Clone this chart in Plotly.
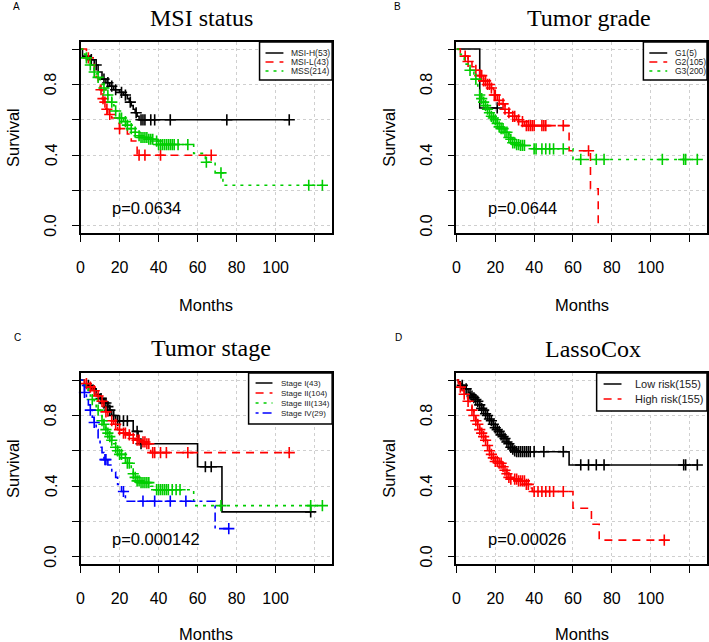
import numpy as np
import plotly.graph_objects as go

W, H = 709, 642

# ---------------- data ----------------
# Panel A : MSI status
MSIH_t = [0, 1, 5, 7, 9, 11, 13, 15, 17, 20, 22, 24, 25, 26, 27, 28, 29, 30]
MSIH_s = [1.0, 0.96, 0.94, 0.91, 0.87, 0.83, 0.81, 0.79, 0.77, 0.755, 0.74, 0.72, 0.70, 0.68, 0.66, 0.64, 0.62, 0.60]
MSIH_c = [5.5, 8, 12, 14, 16, 18, 21, 23, 25.5, 28.5, 31, 32, 33, 36, 38, 46, 75, 107]
MSIH_end = 107

MSIL_t = [0, 3, 5, 7, 8, 9, 10, 11, 12, 13, 14, 16, 19, 20, 24, 26, 29]
MSIL_s = [1.0, 0.95, 0.93, 0.88, 0.84, 0.81, 0.77, 0.72, 0.70, 0.66, 0.63, 0.61, 0.58, 0.55, 0.52, 0.48, 0.40]
MSIL_c = [4, 10.5, 11.5, 12.5, 13.5, 15, 20, 30, 33, 41, 67]
MSIL_end = 67

MSS_t = [0, 1, 2, 3, 4, 5, 6, 7, 8, 9, 10, 11, 12, 13, 14, 15, 16, 17, 18, 19, 20, 22, 24, 25, 27, 29, 31, 35, 38, 40, 58, 64, 69, 73]
MSS_s = [1.0, 0.99, 0.97, 0.95, 0.93, 0.91, 0.89, 0.87, 0.86, 0.84, 0.82, 0.80, 0.78, 0.76, 0.74, 0.72, 0.70, 0.68, 0.65, 0.63, 0.61, 0.59, 0.57, 0.55, 0.53, 0.51, 0.50, 0.49, 0.48, 0.46, 0.41, 0.36, 0.30, 0.23]
MSS_c = [3, 5, 7, 9, 12, 14, 16, 18, 20, 21, 23, 24, 26, 28, 30, 31, 32, 33, 34, 35, 36, 37, 39, 40, 41, 42, 43, 44, 45, 46, 47, 48, 50, 55, 64.5, 72, 117, 124]
MSS_end = 124

# Panel B : Tumor grade
G1_t = [0, 12]
G1_s = [1.0, 0.667]
G1_c = [21]
G1_end = 21

G2_t = [0, 2, 4, 6, 8, 10, 12, 14, 16, 18, 19, 21, 23, 25, 27, 29, 31, 33, 35, 58, 69, 73]
G2_s = [1.0, 0.98, 0.96, 0.93, 0.90, 0.88, 0.85, 0.82, 0.80, 0.78, 0.74, 0.71, 0.69, 0.66, 0.64, 0.62, 0.60, 0.59, 0.567, 0.425, 0.21, 0.0]
G2_c = [4.5, 6, 10, 12, 13, 14, 15, 16, 17, 18, 19.5, 20, 22, 24, 25, 27, 29, 30, 32, 34, 36, 37, 38, 39, 40, 44, 45, 46, 55, 68]
G2_end = 73

G3_t = [0, 1, 2, 3, 4, 5, 6, 7, 8, 9, 10, 11, 12, 13, 14, 15, 16, 17, 18, 19, 20, 21, 22, 23, 25, 27, 28, 29, 31, 33, 38, 40, 60]
G3_s = [1.0, 0.99, 0.97, 0.95, 0.93, 0.915, 0.90, 0.88, 0.87, 0.86, 0.83, 0.78, 0.74, 0.72, 0.70, 0.68, 0.66, 0.64, 0.62, 0.61, 0.60, 0.58, 0.56, 0.55, 0.53, 0.50, 0.49, 0.47, 0.46, 0.455, 0.446, 0.436, 0.376]
G3_c = [7, 10, 12, 13, 14, 15, 16, 17, 18, 19, 20, 21, 22, 23, 24, 25, 26, 27, 28, 29, 30, 31, 32, 33, 34, 35, 40, 41, 44, 46, 48, 50, 55, 64, 72, 76, 106, 117, 118, 124]
G3_end = 124

# Panel C : Tumor stage
S1_t = [0, 2, 5, 8, 10, 12, 14, 15, 16, 18, 27, 29.5, 30.5, 60, 72.5]
S1_s = [1.0, 0.97, 0.95, 0.92, 0.895, 0.87, 0.85, 0.83, 0.80, 0.77, 0.71, 0.665, 0.64, 0.51, 0.255]
S1_c = [4, 10.5, 12, 13, 14, 15, 17, 19, 20, 22, 24, 29, 31, 64, 67, 118]
S1_end = 118

S2_t = [0, 2, 4, 6, 8, 10, 12, 13, 14, 15, 17, 19, 21, 24, 26, 28, 31, 34, 36]
S2_s = [1.0, 0.98, 0.96, 0.94, 0.91, 0.88, 0.85, 0.82, 0.79, 0.77, 0.75, 0.72, 0.70, 0.69, 0.67, 0.66, 0.65, 0.64, 0.59]
S2_c = [3, 5, 7, 9, 11, 13, 16, 18, 20, 22, 23, 25, 27, 29, 30, 32, 33, 34, 35, 37, 38, 41, 44, 55, 107]
S2_end = 107

S3_t = [0, 1, 2, 3, 4, 5, 6, 7, 8, 9, 10, 11, 12, 13, 14, 15, 16, 17, 18, 19, 20, 22, 24, 26, 27, 28, 29, 31, 36, 38, 58]
S3_s = [1.0, 0.99, 0.97, 0.95, 0.93, 0.91, 0.89, 0.87, 0.85, 0.83, 0.80, 0.77, 0.75, 0.72, 0.70, 0.68, 0.66, 0.64, 0.62, 0.60, 0.58, 0.56, 0.53, 0.50, 0.47, 0.45, 0.43, 0.42, 0.40, 0.38, 0.29]
S3_c = [6, 9, 11, 12, 13, 14, 15, 16, 18, 19, 20, 21, 23, 24, 25, 27, 28, 29, 30, 31, 32, 33, 34, 35, 39, 40, 41, 42, 43, 44, 45, 47, 49, 51, 72, 118, 124]
S3_end = 124

S4_t = [0, 1, 2, 3, 4, 5, 6, 7, 8, 9, 10, 11, 12, 14, 16, 18, 19, 21, 23, 69]
S4_s = [1.0, 0.97, 0.93, 0.90, 0.86, 0.83, 0.79, 0.76, 0.72, 0.66, 0.62, 0.59, 0.55, 0.52, 0.48, 0.45, 0.41, 0.37, 0.315, 0.16]
S4_c = [2, 5, 7, 12.5, 13, 22, 32, 38, 46, 54, 76]
S4_end = 76

# Panel D : LassoCox
LOW_t = [0, 1, 2, 3, 4, 5, 6, 7, 8, 9, 10, 11, 12, 13, 14, 15, 16, 17, 18, 19, 20, 21, 22, 23, 24, 25, 26, 27, 28, 29, 30, 31, 58]
LOW_s = [1.0, 0.99, 0.98, 0.97, 0.96, 0.95, 0.93, 0.92, 0.91, 0.90, 0.89, 0.88, 0.86, 0.84, 0.83, 0.81, 0.80, 0.78, 0.77, 0.75, 0.73, 0.72, 0.71, 0.69, 0.68, 0.67, 0.65, 0.64, 0.62, 0.61, 0.60, 0.595, 0.52]
LOW_c = [3, 5, 7, 8, 9, 10, 11, 12, 13, 14, 15, 16, 17, 18, 19, 20, 21, 22, 23, 24, 25, 26, 27, 28, 29, 30, 31, 32, 33, 34, 35, 36, 37, 38, 40, 45, 55, 64, 68, 72, 76, 117, 118, 124]
LOW_end = 124

HIGH_t = [0, 1, 2, 3, 4, 5, 6, 7, 8, 9, 10, 11, 12, 13, 14, 15, 16, 17, 18, 19, 20, 22, 24, 25, 26, 27, 28, 32, 36, 38, 39, 60, 69.5, 73.5]
HIGH_s = [1.0, 0.98, 0.96, 0.94, 0.92, 0.90, 0.88, 0.85, 0.83, 0.80, 0.77, 0.75, 0.72, 0.70, 0.68, 0.66, 0.63, 0.60, 0.58, 0.56, 0.54, 0.53, 0.51, 0.49, 0.47, 0.45, 0.44, 0.43, 0.41, 0.39, 0.37, 0.275, 0.185, 0.095]
HIGH_c = [2, 4, 6, 8, 9, 10, 11, 12, 13, 14, 15, 16, 17, 18, 19, 20, 21, 22, 23, 24, 25, 26, 27, 28, 30, 31, 32, 33, 34, 35, 36, 37, 40, 42, 44, 46, 48, 50, 55, 107]
HIGH_end = 107

x_ticks = [0, 20, 40, 60, 80, 100, 120]
x_labels = ["0", "20", "40", "60", "80", "100", ""]
y_ticks = [0.0, 0.2, 0.4, 0.6, 0.8, 1.0]
y_labels = ["0.0", "", "0.4", "", "0.8", ""]

# ---------------- styles ----------------
BLACK, RED, GREEN, BLUE = "#000000", "#FF0000", "#00CD00", "#0000FF"
DASH = {"solid": "solid", "dash": "8px,6px", "dot": "3px,5px", "dashdot": "3px,4px,9px,4px"}

panels = [
    dict(letter="A", title="MSI status", p="p=0.0634",
         box=(77, 42, 330, 233), title_xy=(199, 18), surv_xy=(9, 137), months_xy=(203, 305), letter_xy=(13, 7),
         legend=dict(box=(257, 42, 330, 80), rows=[53, 62, 71], lx=(263, 281), tx=287, fs=8.5),
         curves=[("MSI-H(53)", MSIH_t, MSIH_s, MSIH_c, MSIH_end, BLACK, "solid"),
                 ("MSI-L(43)", MSIL_t, MSIL_s, MSIL_c, MSIL_end, RED, "dash"),
                 ("MSS(214)", MSS_t, MSS_s, MSS_c, MSS_end, GREEN, "dot")]),
    dict(letter="B", title="Tumor grade", p="p=0.0644",
         box=(455, 42, 707, 233), title_xy=(588, 18), surv_xy=(387, 137), months_xy=(581, 305), letter_xy=(396, 7),
         legend=dict(box=(643, 42, 707, 80), rows=[53, 62, 71], lx=(649, 667), tx=673, fs=8.5),
         curves=[("G1(5)", G1_t, G1_s, G1_c, G1_end, BLACK, "solid"),
                 ("G2(105)", G2_t, G2_s, G2_c, G2_end, RED, "dash"),
                 ("G3(200)", G3_t, G3_s, G3_c, G3_end, GREEN, "dot")]),
    dict(letter="C", title="Tumor stage", p="p=0.000142",
         box=(77, 373, 330, 564), title_xy=(208, 348), surv_xy=(9, 468), months_xy=(203, 634), letter_xy=(14, 338),
         legend=dict(box=(246, 373, 330, 424), rows=[383, 393, 403, 413], lx=(253, 270), tx=277, fs=8),
         curves=[("Stage I(43)", S1_t, S1_s, S1_c, S1_end, BLACK, "solid"),
                 ("Stage II(104)", S2_t, S2_s, S2_c, S2_end, RED, "dash"),
                 ("Stage III(134)", S3_t, S3_s, S3_c, S3_end, GREEN, "dot"),
                 ("Stage IV(29)", S4_t, S4_s, S4_c, S4_end, BLUE, "dashdot")]),
    dict(letter="D", title="LassoCox", p="p=0.00026",
         box=(455, 373, 707, 564), title_xy=(592, 349), surv_xy=(387, 468), months_xy=(581, 634), letter_xy=(397, 338),
         legend=dict(box=(596, 373, 707, 411), rows=[384, 399], lx=(603, 621), tx=633, fs=11),
         curves=[("Low risk(155)", LOW_t, LOW_s, LOW_c, LOW_end, BLACK, "solid"),
                 ("High risk(155)", HIGH_t, HIGH_s, HIGH_c, HIGH_end, RED, "dash")]),
]


def px(x):
    return x / W


def py(y):
    return 1 - y / H


fig = go.Figure()
shapes, annotations = [], []
layout = {}
SANS = "Liberation Sans, Arial, sans-serif"
SERIF = "Liberation Serif, Times New Roman, serif"

for i, pnl in enumerate(panels):
    n = "" if i == 0 else str(i + 1)
    xa, ya = "x" + n, "y" + n
    x0, y0, x1, y1 = pnl["box"]
    layout["xaxis" + n] = dict(
        domain=[px(x0), px(x1)], range=[0, 129], anchor=ya,
        tickvals=x_ticks, ticktext=x_labels, ticks="outside", ticklen=7, tickwidth=1, tickcolor="black",
        showline=True, linecolor="black", linewidth=1.5, mirror=True,
        showgrid=True, gridcolor="#cfcfcf", griddash="dot", gridwidth=1, zeroline=False,
        tickfont=dict(family=SANS, size=16, color="black"), ticklabelstandoff=12,
    )
    layout["yaxis" + n] = dict(
        domain=[py(y1), py(y0)], range=[-0.04, 1.04], anchor=xa,
        tickvals=y_ticks, ticktext=y_labels, ticks="outside", ticklen=7, tickwidth=1, tickcolor="black",
        showline=True, linecolor="black", linewidth=1.5, mirror=True,
        showgrid=True, gridcolor="#cfcfcf", griddash="dot", gridwidth=1, zeroline=False,
        showticklabels=False,
    )
    # rotated y tick labels (R style), placed on the y scale
    for v, lab in zip(y_ticks, y_labels):
        if lab:
            annotations.append(dict(x=px(x0 - 30), y=v, xref="paper", yref=ya, text=lab, showarrow=False,
                                    textangle=-90, xanchor="center", yanchor="middle",
                                    font=dict(family=SANS, size=16, color="black")))
    for name, t, s, c, end, col, dash in pnl["curves"]:
        fig.add_trace(go.Scatter(
            x=list(t) + [end], y=list(s) + [s[-1]], mode="lines", line_shape="hv",
            line=dict(color=col, width=1.6, dash=DASH[dash]), xaxis=xa, yaxis=ya,
            showlegend=False, hoverinfo="skip", cliponaxis=False))
        idx = np.searchsorted(np.array(t), np.array(c), side="right") - 1
        cy = [s[k] for k in idx]
        fig.add_trace(go.Scatter(
            x=c, y=cy, mode="markers",
            marker=dict(symbol="cross-thin", size=8, line=dict(color=col, width=1.6)),
            xaxis=xa, yaxis=ya, showlegend=False, hoverinfo="skip", cliponaxis=False))

    # p value
    annotations.append(dict(x=15, y=0.1, xref=xa, yref=ya, text=pnl["p"], showarrow=False,
                            xanchor="left", yanchor="middle",
                            font=dict(family=SANS, size=16.5, color="black")))
    # title
    tx, ty = pnl["title_xy"]
    annotations.append(dict(x=px(tx), y=py(ty), xref="paper", yref="paper", text=pnl["title"],
                            showarrow=False, xanchor="center", yanchor="middle",
                            font=dict(family=SERIF, size=24, color="black")))
    sx, sy = pnl["surv_xy"]
    annotations.append(dict(x=px(sx), y=py(sy), xref="paper", yref="paper", text="Survival",
                            showarrow=False, textangle=-90, xanchor="center", yanchor="middle",
                            font=dict(family=SANS, size=16.5, color="black")))
    mx, my = pnl["months_xy"]
    annotations.append(dict(x=px(mx), y=py(my), xref="paper", yref="paper", text="Months",
                            showarrow=False, xanchor="center", yanchor="middle",
                            font=dict(family=SANS, size=16.5, color="black")))
    lx, ly = pnl["letter_xy"]
    annotations.append(dict(x=px(lx), y=py(ly), xref="paper", yref="paper", text=pnl["letter"],
                            showarrow=False, xanchor="center", yanchor="middle",
                            font=dict(family=SANS, size=10, color="black")))
    # legend
    lg = pnl["legend"]
    bx0, by0, bx1, by1 = lg["box"]
    shapes.append(dict(type="rect", xref="paper", yref="paper", x0=px(bx0), x1=px(bx1),
                       y0=py(by1), y1=py(by0), line=dict(color="black", width=1.5),
                       fillcolor="white", layer="above"))
    for (name, t, s, c, end, col, dash), ry in zip(pnl["curves"], lg["rows"]):
        shapes.append(dict(type="line", xref="paper", yref="paper", x0=px(lg["lx"][0]), x1=px(lg["lx"][1]),
                           y0=py(ry), y1=py(ry), line=dict(color=col, width=1.5, dash=DASH[dash]),
                           layer="above"))
        annotations.append(dict(x=px(lg["tx"]), y=py(ry), xref="paper", yref="paper", text=name,
                                showarrow=False, xanchor="left", yanchor="middle",
                                font=dict(family=SANS, size=lg["fs"], color="#222222")))

fig.update_layout(
    width=W, height=H, margin=dict(l=0, r=0, t=0, b=0),
    paper_bgcolor="white", plot_bgcolor="white", showlegend=False,
    shapes=shapes, annotations=annotations, **layout,
)
fig.write_html("out.html", config={"displayModeBar": False},
               post_script="document.body.style.margin='0';document.body.style.overflow='hidden';")
